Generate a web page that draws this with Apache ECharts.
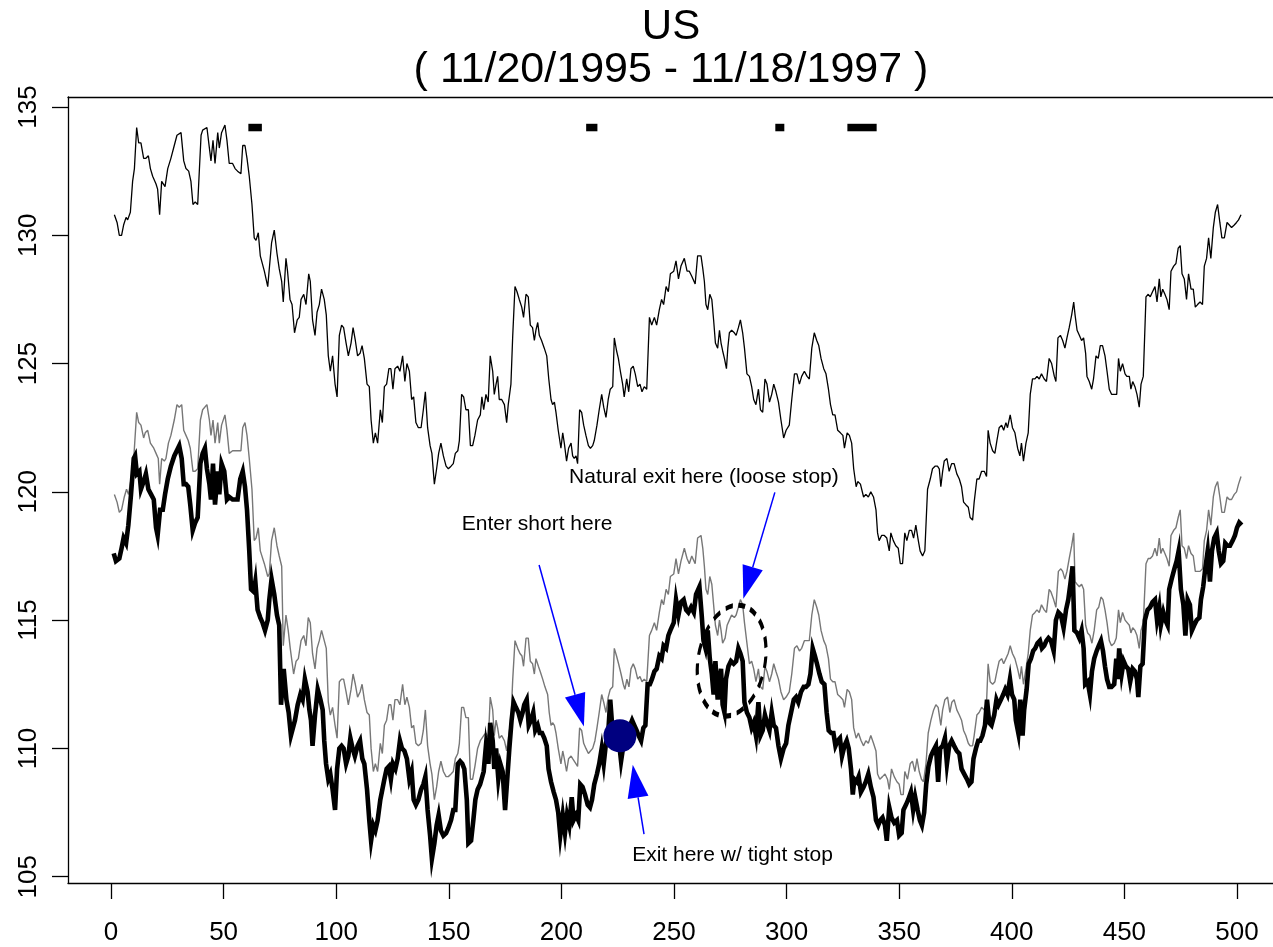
<!DOCTYPE html>
<html>
<head>
<meta charset="utf-8">
<script src="https://cdn.jsdelivr.net/npm/echarts@6/dist/echarts.min.js"></script>
<style>
  html, body { margin: 0; padding: 0; background: #fff; }
  #chart { width: 1273px; height: 947px; }
</style>
</head>
<body>
<div id="chart"></div>
<script>
// Upper thin series: [day, price]
const upperLine = [
  [1.5,130.8],[2.7,130.5],[3.7,130.0],[4.7,130.0],[5.6,130.4],[6.7,130.7],[7.4,130.6],[8.6,130.9],[9.6,132.1],[10.4,132.6],
  [11.4,134.2],[12.3,133.6],[13.3,133.6],[14.5,133.0],[15.5,133.0],[16.6,133.1],[17.5,132.6],[18.5,132.3],[20,132.0],[20.7,131.8],
  [21.6,130.8],[22.5,132.1],[24,131.9],[25.2,132.6],[26.6,133.0],[28.1,133.5],[29.3,133.9],[30.1,133.9],[31.1,134.0],[32.3,132.9],
  [33.3,132.6],[34.5,132.5],[35.5,132.1],[36.4,131.2],[37.4,131.3],[38.5,131.2],[40,133.9],[40.7,134.1],[42.6,134.2],[43.7,133.4],
  [44.4,132.9],[45.3,133.7],[46.2,132.8],[47.4,134.0],[48.1,133.4],[49.1,134.0],[50.6,134.3],[51.5,133.7],[52.5,132.8],[54,132.8],
  [55.1,132.6],[56.2,132.5],[57.7,132.4],[58.5,133.5],[59.5,133.5],[60.4,133.0],[61.4,132.3],[62.6,131.2],[63.6,129.9],[64.4,129.8],
  [65.4,130.1],[66.3,129.2],[68.1,128.6],[69.6,128.0],[70.3,128.0],[71.3,129.7],[72.5,130.2],[73.7,129.3],[74.7,128.7],[75.8,128.2],
  [76.5,127.4],[77.7,129.1],[78.4,128.6],[79.5,127.5],[80.4,127.3],[81.5,126.2],[82.7,126.7],[83.6,126.8],[84.4,127.5],[85.6,127.7],
  [86.6,127.3],[87.8,128.5],[88.5,128.2],[89.5,126.7],[90.6,126.1],[91.5,127.0],[92.5,127.3],[93.5,127.9],[94.7,127.5],[95.6,126.9],
  [96.5,125.3],[97.4,124.7],[98.4,125.3],[99.5,124.2],[100.4,123.7],[101.4,126.1],[102.4,126.5],[103.3,126.4],[104.4,125.8],[105.4,125.3],
  [106.6,125.8],[107.5,126.4],[108.5,125.9],[109.5,125.3],[110.6,125.4],[111.5,125.7],[112.5,125.2],[113.7,124.2],[114.7,124.1],[115.5,122.8],
  [116.5,121.9],[117.4,122.3],[118.4,121.9],[119.6,123.2],[120.5,122.7],[121.4,124.1],[122.4,124.2],[123.4,124.8],[124.3,124.8],[125.2,124.0],
  [126.1,124.8],[127.3,124.9],[128.3,124.7],[129.5,125.3],[130.5,124.3],[131.4,125.0],[132.5,124.7],[133.5,123.6],[134.4,123.7],[135.4,122.7],
  [136.5,122.5],[137.7,122.5],[138.7,123.2],[139.6,123.9],[140.6,122.5],[141.7,121.8],[142.5,121.5],[143.6,120.3],[144.6,120.9],[145.5,121.5],
  [146.5,121.9],[147.6,121.4],[148.8,121.0],[149.8,120.9],[151.0,121.0],[152.0,121.1],[152.9,121.5],[154.0,121.6],[154.7,122.0],[155.7,123.8],
  [156.6,123.7],[157.6,123.2],[158.7,123.2],[159.6,121.8],[160.6,121.8],[161.6,122.2],[162.8,122.8],[164.0,123.0],[164.7,123.7],[165.5,123.2],
  [166.5,123.8],[167.5,123.5],[168.4,125.3],[169.5,124.7],[170.2,123.8],[171,124.2],[171.7,124.5],[172.4,123.6],[173.5,123.6],[174.7,123.4],
  [175.7,122.7],[176.4,123.4],[177.6,124.2],[178.4,126.1],[179.4,128.0],[180.3,127.8],[181.3,127.5],[182.4,127.2],[183.2,126.8],[184.3,127.7],
  [185.3,127.6],[186.2,126.5],[187.2,126.4],[188,125.9],[188.7,126.3],[189.5,126.6],[190.2,126.1],[191.2,125.9],[192.4,125.6],[193.5,125.3],
  [194.4,124.4],[195.4,123.6],[196.1,123.4],[196.9,123.5],[197.6,123.1],[198.6,122.4],[199.8,121.7],[200.6,122.3],[201.3,121.9],[202.3,121.2],
  [203.2,121.7],[204.3,121.9],[205,121.4],[205.7,121.3],[206.5,121.4],[207.2,121.1],[208.1,123.2],[209,123.1],[209.9,122.6],[210.9,122.2],
  [212,121.8],[212.9,121.7],[213.9,121.8],[214.6,122.0],[215.8,122.6],[216.8,123.2],[217.9,123.8],[218.8,123.3],[219.8,122.9],[220.8,123.6],
  [221.7,124.0],[222.8,124.1],[223.5,126.0],[224.5,125.5],[225.3,125.2],[226.2,124.7],[227.2,124.2],[227.9,123.7],[229,124.4],[229.9,123.9],
  [230.9,124.8],[231.9,124.9],[232.8,124.6],[233.9,124.1],[234.9,124.2],[235.8,123.9],[236.8,124.1],[237.9,124.0],[239.1,126.8],[240.1,126.5],
  [241.3,126.8],[242.3,126.5],[243.5,127.1],[244.5,127.5],[245.4,127.3],[246.5,128.0],[247.5,127.8],[248.4,128.5],[249.9,128.6],[250.9,129.0],
  [252,128.3],[253.1,128.8],[254.6,129.1],[255.8,128.6],[256.8,128.6],[257.9,128.4],[259.4,128.1],[260.5,129.2],[262,129.2],[262.8,128.7],
  [263.5,128.2],[264.2,127.3],[265,127.1],[265.9,127.7],[266.8,127.5],[267.6,126.7],[268.4,125.8],[269.4,125.6],[270.2,126.3],[270.9,125.8],
  [271.6,125.5],[272.4,125.2],[273.3,124.8],[273.9,125.6],[274.6,126.2],[275.6,126.3],[276.8,126.2],[277.6,126.1],[278.6,126.4],[279.5,126.7],
  [280.5,126.2],[281.3,125.6],[282.4,124.6],[283.5,124.5],[284.5,124.1],[285.4,123.6],[286.4,123.4],[287.5,124.0],[288.4,123.2],[289.4,123.1],
  [290.4,124.4],[291.3,124.2],[292.4,123.5],[293.4,123.8],[294.3,124.2],[295.3,123.9],[296.4,123.5],[297.5,122.8],[298.7,122.1],[299.8,122.4],
  [301.2,122.6],[302.3,123.6],[303.5,124.6],[304.6,124.6],[305.7,124.2],[306.7,124.5],[307.9,124.7],[309.1,124.5],[310.1,124.4],[311.2,125.6],
  [312.3,126.2],[313.4,125.9],[314.3,125.7],[315.3,125.2],[316.5,124.8],[317.5,124.6],[318.6,124.0],[319.5,123.4],[320.5,123.0],[321.5,123.0],
  [322.7,122.4],[323.9,122.3],[325,122.2],[325.7,121.7],[326.9,122.3],[327.9,122.2],[328.9,121.9],[329.8,120.9],[330.9,120.2],[331.6,120.4],
  [332.8,120.3],[334.2,119.8],[335.2,119.9],[336.3,119.8],[337.4,120.0],[338.6,119.8],[339.7,119.3],[340.4,118.4],[341.1,118.1],[342.2,118.3],
  [343.4,118.3],[344.5,118.2],[345.6,117.7],[346.3,118.4],[347.4,118.1],[348.5,117.9],[349.6,117.8],[350.5,117.2],[351.5,117.2],[352.5,118.4],
  [353.4,118.1],[354.5,118.5],[355.5,118.5],[356.4,118.2],[357.4,118.7],[358.5,118.1],[359.3,117.7],[360.4,117.5],[361.4,117.7],[362.6,120.1],
  [363.8,120.5],[364.8,120.9],[365.9,121.0],[367,121.0],[367.8,120.9],[368.5,120.2],[369.3,120.8],[370,121.2],[371.2,121.3],[372.2,120.8],
  [373.3,121.1],[374.4,121.1],[375.6,120.7],[376.7,120.5],[377.7,120.2],[378.6,119.6],[379.6,119.5],[380.7,119.4],[381.5,119.0],[382.6,118.9],
  [383.3,119.6],[384.5,120.5],[385.5,120.5],[386.6,120.8],[387.8,120.8],[388.8,120.6],[389.5,122.4],[390.4,121.9],[391.5,121.6],[392.5,121.5],
  [393.4,122.0],[394.4,122.5],[395.5,122.6],[396.4,122.4],[397.4,122.7],[398.1,122.5],[399.3,123.0],[400.3,122.5],[401.4,122.3],[402.6,121.7],
  [403.6,121.4],[404.3,121.9],[405.2,121.2],[406.3,121.9],[407.3,122.3],[408.2,123.8],[409.2,124.4],[410.3,124.4],[411.2,124.5],[412.2,124.4],
  [413.2,124.6],[414.4,124.4],[415.4,124.3],[416.6,125.2],[417.7,125.0],[418.9,124.5],[419.6,124.3],[420.5,126.0],[421.6,126.1],[422.6,125.9],
  [423.6,125.6],[424.5,126.0],[425.5,126.4],[426.6,126.9],[427.5,127.4],[428.1,126.9],[429,126.3],[430,126.1],[431,125.9],[431.9,126.0],
  [432.8,125.4],[433.4,124.5],[434.4,124.3],[435.5,124.0],[436.3,124.4],[437.4,125.3],[438.4,125.2],[439.3,125.7],[440.3,125.7],[441.4,125.3],
  [442.3,124.7],[443.3,124.0],[444.3,123.8],[445.5,123.8],[446.6,123.8],[447.4,125.2],[448.2,124.7],[449.2,125.0],[450.3,124.6],[451.1,124.5],
  [452.2,124.5],[452.9,124.0],[453.7,124.3],[454.7,124.1],[455.6,123.8],[456.6,123.3],[457.4,124.2],[458.4,124.5],[459.6,127.6],[460.6,127.7],
  [461.5,127.6],[462.5,127.8],[463.6,128.0],[464.5,127.4],[465.5,128.3],[466.2,127.6],[467,127.9],[468,127.7],[468.9,127.5],[469.9,127.1],
  [470.7,128.6],[471.9,128.8],[472.9,128.9],[473.9,129.5],[474.8,129.6],[475.6,128.5],[476.6,128.3],[477.6,127.5],[478.5,128.5],[479.6,127.9],
  [480.6,127.9],[481.5,127.2],[482.5,127.3],[483.6,127.4],[484.7,127.3],[485.5,128.8],[486.5,129.1],[487.4,129.9],[488.4,129.1],[489.5,130.3],
  [490.4,130.9],[491.4,131.2],[492.4,130.5],[493.3,129.9],[494.4,129.9],[495.6,130.5],[496.6,130.4],[497.6,130.3],[498.8,130.4],[499.8,130.5],
  [500.7,130.6],[501.8,130.8]
];

// Grey stop line: [day, level]
const stopLine = [
  [1.5,119.9],[2.7,119.6],[3.7,119.2],[4.7,119.3],[5.9,119.8],[6.9,120.1],[7.8,119.9],[8.9,120.5],[10.1,121.3],[11.4,123.1],
  [12.3,122.7],[13.3,122.6],[14.5,122.1],[15.2,122.3],[16.3,122.4],[17.5,121.9],[19,121.7],[20,121.5],[21,121.3],[21.6,120.3],
  [22.5,121.3],[23.7,121.2],[24.4,121.3],[25.5,121.9],[26.6,122.2],[28.1,122.8],[29.3,123.4],[30.3,123.3],[31.4,123.4],[32.3,122.4],
  [33.3,122.2],[34.3,122.0],[35.2,121.7],[36.4,120.8],[37.4,120.8],[38.5,120.9],[39.7,122.8],[40.7,123.2],[42.6,123.4],[43.7,122.8],
  [44.4,122.2],[45.3,122.8],[46.2,121.9],[47.4,122.7],[48.1,121.9],[49.1,122.6],[50.6,123.0],[51.5,122.4],[52.5,121.5],[54,121.6],
  [55.1,121.6],[56.2,121.6],[57.7,121.6],[58.5,122.5],[59.5,122.7],[60.4,122.2],[61.4,121.3],[62.6,120.1],[63.6,118.1],[64.4,118.2],
  [65.4,118.6],[66.3,117.7],[68.1,117.2],[69.6,116.7],[70.3,116.8],[71.3,118.1],[72.5,118.6],[73.7,117.9],[74.7,117.5],[75.8,117.1],
  [76.5,114.0],[77.7,115.2],[78.7,114.6],[79.6,113.9],[81.1,112.9],[82.2,113.4],[83.2,113.5],[84.4,114.2],[85.6,114.4],[86.6,114.0],
  [87.6,115.1],[88.5,114.9],[89.5,113.7],[90.6,113.1],[91.5,113.9],[92.5,114.2],[93.5,114.6],[94.7,114.2],[95.6,113.9],[96.5,111.8],
  [97.4,111.3],[98.4,111.6],[99.5,110.9],[100.4,110.4],[101.4,112.6],[102.4,112.7],[103.3,112.7],[104.4,112.2],[105.4,111.7],[106.6,112.3],
  [107.5,112.9],[108.5,112.5],[109.5,112.0],[110.6,112.2],[111.5,112.5],[112.5,111.9],[113.7,111.4],[114.7,111.3],[115.5,110.0],[116.5,109.1],
  [117.4,109.4],[118.4,109.1],[119.6,110.2],[120.5,109.8],[121.4,110.9],[122.4,111.1],[123.4,111.7],[124.3,111.7],[125.2,111.1],[126.1,111.9],
  [127.3,111.9],[128.3,111.7],[129.5,112.5],[130.5,111.7],[131.4,112.0],[132.5,111.6],[133.5,110.8],[134.4,110.9],[135.4,110.2],[136.5,110.1],
  [137.7,110.2],[138.7,110.7],[139.6,111.5],[140.6,110.1],[141.7,109.4],[142.5,109.0],[143.6,108.0],[144.6,108.5],[145.5,109.1],[146.5,109.5],
  [147.6,109.1],[148.8,108.9],[149.8,108.9],[151.0,109.0],[152.0,109.1],[152.9,109.6],[154.0,109.8],[154.7,110.2],[155.7,111.6],[156.6,111.6],
  [157.6,111.2],[158.7,111.2],[159.6,108.8],[160.6,108.8],[161.6,109.3],[162.8,110.0],[164.0,110.3],[165.5,110.5],[166.5,110.6],[167.6,110.4],
  [168.4,112.0],[169.5,111.5],[170.2,110.5],[171,111.1],[171.7,110.8],[172.4,110.4],[173.5,110.5],[174.7,110.3],[175.7,109.9],[176.6,110.5],
  [177.6,111.1],[178.4,112.7],[179.4,114.2],[180.6,113.9],[181.6,113.7],[182.5,113.6],[183.2,113.2],[184.3,114.3],[185.3,114.3],[186.2,113.4],
  [187.2,113.3],[188,112.9],[188.7,113.5],[189.8,113.2],[190.6,113.0],[191.7,112.7],[192.7,112.4],[193.9,112.1],[194.6,111.4],[195.4,110.9],
  [196.1,111.0],[196.9,110.9],[197.6,110.6],[198.6,110.0],[199.8,109.4],[200.6,109.9],[201.3,109.6],[202.3,109.1],[203.2,109.6],[204.3,109.7],
  [205,109.6],[205.7,109.6],[206.5,109.4],[207.2,109.3],[208.1,110.8],[209,110.7],[209.9,110.2],[210.9,110.0],[212,109.8],[212.9,109.9],
  [213.9,110.0],[214.9,110.3],[215.8,110.8],[216.8,111.4],[217.9,112.1],[218.8,111.8],[219.8,111.4],[220.8,112.0],[221.7,112.3],[222.8,112.4],
  [223.5,113.9],[224.5,113.6],[225.4,113.3],[226.5,112.9],[227.5,112.5],[228.2,112.3],[229.1,112.7],[230,112.4],[230.9,113.1],[231.9,113.3],
  [232.8,113.1],[233.9,112.7],[234.9,112.8],[235.8,112.6],[236.8,112.7],[237.9,112.6],[239.1,114.4],[240.1,114.6],[241.3,114.9],[242.3,114.6],
  [243.5,115.3],[244.5,115.8],[245.4,115.6],[246.5,116.2],[247.5,116.0],[248.4,116.7],[249.9,116.8],[250.9,117.4],[252,116.8],[253.1,117.3],
  [254.6,117.8],[255.8,117.4],[256.8,117.2],[257.9,117.5],[259.4,117.2],[260.5,118.2],[262,118.3],[262.8,117.8],[263.5,117.1],[264.2,116.2],
  [265,116.0],[265.9,116.7],[266.8,116.4],[267.6,115.6],[268.4,114.8],[269.4,114.4],[270.2,115.0],[270.9,114.6],[271.6,114.1],[272.7,114.3],
  [273.6,114.8],[274.6,115.0],[275.6,115.2],[276.8,115.1],[277.6,115.2],[278.6,115.5],[279.5,115.8],[280.5,115.6],[281.3,114.9],[282.4,114.1],
  [283.5,113.3],[284.5,113.4],[285.4,113.1],[286.4,112.6],[287.5,113.1],[288.4,112.4],[289.4,112.3],[290.4,113.2],[291.3,113.0],[292.4,112.6],
  [293.4,112.9],[294.3,113.3],[295.3,113.0],[296.4,112.7],[297.5,112.2],[298.7,111.9],[299.8,112.0],[301.2,112.2],[302.3,112.9],[303.5,113.9],
  [304.6,114.0],[305.7,113.8],[306.7,113.9],[307.9,114.2],[309.1,114.2],[310.1,114.2],[311.2,115.2],[312.3,115.8],[313.4,115.5],[314.3,115.2],
  [315.3,114.6],[316.5,114.2],[317.5,114.0],[318.6,113.5],[319.5,112.7],[320.5,112.6],[321.5,112.6],[322.7,112.1],[323.9,112.0],[325,111.9],
  [325.7,111.6],[326.9,112.3],[327.9,112.2],[328.9,111.9],[329.8,110.8],[330.9,110.4],[331.9,110.6],[333.1,110.3],[334.2,110.1],[335.2,110.3],
  [336.3,110.2],[337.4,110.5],[338.6,110.2],[339.7,109.9],[340.4,109.0],[341.4,108.8],[342.6,108.9],[343.7,109.0],[344.8,108.8],[345.6,108.4],
  [346.6,109.2],[347.8,108.9],[349,108.7],[350,108.6],[350.8,108.2],[351.8,108.2],[352.5,109.1],[353.7,108.8],[354.9,109.4],[355.9,109.5],
  [357,109.1],[357.9,109.6],[358.9,109.1],[359.9,108.8],[360.8,108.7],[361.9,109.4],[362.9,110.6],[364.1,111.1],[365.3,111.5],[366.3,111.7],
  [367.3,111.6],[368.5,110.9],[369.3,111.5],[370.3,111.9],[371.5,112.0],[372.5,111.4],[373.4,111.8],[374.4,111.9],[375.6,111.5],[376.7,111.3],
  [377.7,111.1],[378.6,110.7],[379.6,110.5],[380.7,110.2],[381.5,110.1],[382.6,110.1],[383.3,110.5],[384.5,111.3],[385.5,111.4],[386.6,111.6],
  [387.8,111.5],[388.8,111.8],[389.5,113.3],[390.4,112.6],[391.5,112.5],[392.5,112.6],[393.4,113.0],[394.4,113.4],[395.5,113.5],[396.4,113.3],
  [397.4,113.5],[398.4,113.7],[399.3,114.0],[400.3,113.7],[401.4,113.5],[402.6,113.1],[403.6,112.7],[404.3,113.2],[405.2,112.5],[406.3,113.1],
  [407.3,113.7],[408.2,114.6],[409.2,115.2],[410.3,115.3],[411.2,115.4],[412.2,115.3],[413.2,115.6],[414.4,115.4],[415.4,115.3],[416.6,116.2],
  [417.4,116.1],[418.6,115.8],[419.6,115.5],[420.7,116.9],[421.8,117.0],[422.6,116.9],[423.6,116.6],[424.5,116.9],[425.5,117.4],[426.6,117.9],
  [427.5,118.4],[428.1,116.5],[429,116.4],[430,116.3],[431,116.4],[431.9,116.2],[432.8,114.8],[433.7,114.5],[434.7,114.4],[435.6,114.1],
  [436.6,114.6],[437.7,115.4],[438.6,115.5],[439.6,115.9],[440.5,115.8],[441.4,115.4],[442.3,114.9],[443.3,114.2],[444.3,114.0],[445.5,114.1],
  [446.4,114.3],[447.4,115.4],[448.2,114.9],[449.2,115.3],[450.3,115.0],[451.1,115.0],[452.2,114.8],[452.9,114.5],[453.7,114.7],[454.7,114.6],
  [455.6,114.4],[456.6,113.9],[457.4,114.6],[458.4,114.9],[459.6,117.2],[460.6,117.4],[461.5,117.4],[462.5,117.5],[463.6,117.8],[464.5,117.5],
  [465.5,118.2],[466.2,117.6],[467,117.8],[468,117.6],[468.9,117.4],[469.9,117.1],[470.7,118.3],[471.9,118.5],[472.9,118.6],[473.9,119.0],
  [474.8,119.3],[475.6,117.9],[476.6,117.8],[477.6,117.4],[478.5,117.9],[479.6,117.6],[480.6,117.5],[481.5,116.9],[482.5,116.9],[483.6,116.9],
  [484.7,117.0],[485.5,118.1],[486.5,118.5],[487.4,119.3],[488.4,118.7],[489.5,119.8],[490.4,120.2],[491.4,120.4],[492.4,119.8],[493.3,119.2],
  [494.4,119.2],[495.6,119.8],[496.6,119.7],[497.6,119.7],[498.8,119.9],[499.8,120.0],[500.7,120.3],[501.8,120.6]
];

// Thick price series: [day, price]
const priceLine = [
  [1.2,117.6],[2.2,117.3],[3.7,117.4],[4.7,117.8],[5.6,118.2],[6.7,118.0],[7.7,118.7],[8.9,119.9],[10.1,121.3],[10.7,121.4],
  [11.5,120.7],[12.6,120.8],[13.3,120.1],[14.5,120.4],[15.5,120.7],[16.6,120.1],[17.8,119.9],[19,119.7],[20,118.6],[20.7,118.3],
  [21.8,119.3],[23,119.3],[24,119.9],[25.2,120.5],[26.6,121.0],[28.1,121.4],[29.2,121.6],[30.3,121.8],[31.4,121.3],[32.3,120.3],
  [33.3,120.3],[34.3,120.2],[35.2,119.5],[36.3,118.5],[37.4,118.8],[38.5,119.0],[39.7,121.1],[40.7,121.5],[41.7,121.7],[42.6,120.9],
  [43.7,120.3],[44.4,119.7],[45.3,121.1],[46.2,119.5],[47.4,120.8],[48.1,119.9],[49.1,121.1],[50.3,120.8],[51.5,119.7],[52.5,119.8],
  [54,119.7],[55.1,119.7],[56.2,119.7],[57.4,120.5],[58.5,120.8],[59.5,120.2],[60.4,119.3],[61.4,117.7],[62.2,116.2],[63.4,116.1],
  [64.1,116.5],[65.1,115.4],[66.3,115.1],[67.3,114.9],[68.4,114.6],[69.6,115.0],[70.3,115.8],[71.3,116.6],[72.5,116.0],[73.7,115.2],
  [74.7,114.8],[75.5,111.7],[76.7,113.1],[77.9,111.9],[78.9,111.4],[79.9,110.5],[81.7,111.1],[82.9,111.7],[84.1,112.1],[85.1,111.9],
  [86.1,112.7],[87.3,112.2],[88.1,111.5],[88.8,111.1],[89.5,110.1],[90.6,111.3],[91.8,112.3],[93,111.9],[94,111.5],[94.7,110.3],
  [95.5,109.4],[96.5,108.8],[97.4,109.0],[98.4,108.4],[99.5,107.6],[100.4,109.2],[101.4,110.0],[102.4,110.1],[103.3,110.0],[104.4,109.4],
  [105.4,109.7],[106.3,110.4],[107.3,110.0],[108.3,109.7],[109.5,110.1],[110.6,110.3],[111.6,109.6],[112.5,109.4],[113.7,108.4],[114.7,107.2],
  [115.5,106.4],[116.5,107.0],[117.4,106.8],[118.4,107.2],[119.6,108.0],[120.5,108.4],[121.4,108.8],[122.4,109.2],[123.4,109.3],[124.3,108.8],
  [125.2,109.4],[126.3,109.2],[127.3,109.6],[128.3,110.3],[129.2,110.0],[130.3,109.9],[131.4,109.6],[132.5,108.8],[133.5,109.1],[134.4,108.0],
  [135.4,107.8],[136.5,108.0],[137.7,108.4],[138.7,108.6],[139.6,108.9],[140.6,107.6],[141.7,106.6],[142.5,105.7],[143.6,106.3],[144.6,107.0],
  [145.5,107.4],[146.5,106.8],[147.6,106.6],[148.8,106.7],[149.8,106.9],[151.0,107.2],[152.0,107.6],[152.9,107.6],[154.0,109.4],[155,109.5],
  [156,109.4],[156.9,109.2],[158,108.0],[158.7,106.3],[159.9,106.4],[160.9,107.2],[161.8,108.0],[162.8,108.4],[163.9,108.6],[165.5,109.1],
  [166.5,110.1],[167.6,109.4],[168.4,111.0],[169.5,110.3],[170.2,109.2],[171,110.0],[172,108.8],[172.9,109.4],[173.9,109.1],[175,107.6],
  [175.8,108.6],[176.9,110.0],[177.9,111.1],[178.8,111.8],[179.8,111.6],[180.9,111.4],[181.8,111.1],[182.8,111.4],[183.5,111.7],[184.6,111.9],
  [185.5,110.9],[186.5,111.1],[187.5,111.4],[188.4,110.7],[189.5,110.9],[190.4,110.6],[191.4,110.6],[192.4,110.4],[193.5,110.1],[194.3,109.2],
  [195.4,108.7],[196.6,108.3],[197.6,108.0],[198.6,107.5],[199.5,106.6],[200.6,107.4],[201.6,106.7],[202.5,107.4],[203.5,107.0],[204.6,108.1],
  [205.4,107.2],[206.5,107.4],[207.5,107.2],[208.4,108.6],[209.4,108.5],[210.5,108.2],[211.7,107.8],[212.7,107.7],[213.6,108.0],[214.6,108.6],
  [215.8,109.0],[216.8,109.4],[217.9,110.0],[218.8,109.4],[219.8,110.2],[220.8,110.6],[221.7,111.9],[222.8,110.6],[223.5,110.2],[224.5,110.3],
  [225.4,110.4],[226.5,109.5],[227.5,110.1],[228.4,110.5],[229.4,110.7],[230.5,110.9],[231.4,111.1],[232.4,110.9],[233.4,110.7],[234.3,110.5],
  [235.4,110.3],[236.4,110.8],[237.3,110.9],[238.3,112.5],[239.3,112.5],[240.2,112.7],[241.3,113.0],[242.3,113.1],[243.5,113.6],[244.5,113.5],
  [245.4,114.0],[246.5,113.9],[247.5,114.4],[248.4,114.6],[249.9,114.9],[250.9,115.8],[252,115.2],[253.1,115.7],[254.3,115.8],[255.4,115.4],
  [256.4,115.3],[257.6,115.5],[258.8,115.3],[259.8,116.0],[261.3,116.3],[262.3,115.2],[263.1,114.2],[264,113.9],[265,114.6],[265.9,113.5],
  [266.8,112.9],[267.6,112.1],[268.4,113.4],[269.4,111.9],[270.2,112.7],[270.9,113.1],[271.6,111.7],[272.4,111.4],[273.1,112.7],[274.2,113.2],
  [275.3,113.4],[276.5,113.3],[277.6,113.4],[278.6,113.9],[279.5,113.7],[280.5,113.4],[281.3,111.8],[282.4,111.4],[283.5,111.2],[284.5,110.8],
  [285.4,111.0],[286.4,110.5],[287.5,111.8],[288.4,110.5],[289.4,110.7],[290.4,111.3],[291.3,111.0],[292.4,110.7],[293.4,111.4],[294.3,110.9],
  [295.3,110.8],[296.4,110.1],[297.5,109.6],[298.7,110.0],[299.8,110.2],[300.8,110.9],[302,111.4],[303.2,111.9],[304.2,112.0],[305.2,111.8],
  [306.4,112.2],[307.6,112.4],[308.6,112.4],[309.7,112.5],[310.6,112.9],[311.6,113.9],[312.6,113.6],[313.5,113.3],[314.6,112.9],[315.6,112.6],
  [316.8,112.5],[317.8,111.4],[318.7,110.7],[319.8,110.6],[320.8,110.6],[321.7,110.1],[322.7,110.3],[323.7,110.4],[324.6,109.7],[325.7,110.1],
  [326.7,110.3],[327.6,110.0],[328.6,109.2],[329.4,108.2],[330.1,108.8],[331.1,108.7],[332,108.9],[333,108.3],[334.2,108.5],[335.2,108.7],
  [336.3,109.0],[337.4,108.5],[338.6,108.1],[339.7,107.2],[340.7,107.0],[341.6,107.2],[342.6,107.3],[343.7,107.0],[344.5,106.4],[345.6,107.7],
  [346.6,107.3],[347.8,107.1],[349,107.2],[350,106.6],[351.1,106.7],[351.9,107.6],[353,107.8],[354,108.0],[355.2,108.3],[356.2,107.6],
  [357.1,108.1],[358.2,107.6],[359.2,107.2],[360.1,107.0],[361.1,107.5],[362,108.6],[363,109.3],[364.1,109.7],[365.1,109.9],[366.3,110.1],
  [367.3,108.7],[368.2,110.0],[369.3,110.1],[370.3,110.4],[371.2,109.4],[372.2,110.1],[373.3,110.3],[374.4,110.1],[375.6,109.9],[376.7,109.8],
  [377.7,109.2],[378.9,109.0],[380.1,108.8],[381.1,108.6],[382.1,108.7],[383,109.6],[384.1,110.0],[385.1,110.3],[386,110.3],[387,110.5],
  [388.1,110.9],[389,111.9],[390,111.0],[391,110.9],[392.2,111.3],[393.2,111.9],[394.1,111.7],[395.2,111.9],[396.2,112.1],[397.1,112.3],
  [398.1,112.1],[399.2,112.7],[400.1,112.1],[401.1,111.9],[401.8,111.1],[402.9,110.6],[403.8,111.9],[404.8,110.5],[405.5,111.5],[406.6,112.3],
  [407.5,113.3],[408.5,113.5],[409.5,113.8],[410.4,113.9],[411.4,114.1],[412.5,114.2],[413.4,113.9],[414.4,114.0],[415.4,114.2],[416.3,114.3],
  [417.4,114.2],[418.6,113.8],[419.6,115.0],[420.7,115.3],[421.8,115.2],[423,114.7],[424.1,115.4],[425.1,115.8],[426,116.4],[427,117.1],
  [427.8,114.6],[429,114.5],[430,114.3],[431,114.6],[431.9,113.9],[432.6,112.5],[433.7,112.6],[434.7,112.1],[435.6,113.0],[436.6,113.5],
  [437.7,113.8],[438.6,114.0],[439.6,114.2],[440.5,113.8],[441.4,113.2],[442.3,112.7],[443.3,112.4],[444.3,112.4],[445.5,112.5],[446.4,113.5],
  [447,112.7],[447.7,113.9],[448.8,112.9],[449.7,113.4],[450.7,113.2],[451.7,113.1],[452.6,112.6],[453.7,113.1],[454.7,113.0],[455.6,112.7],
  [456.2,112.0],[457.1,113.2],[458.1,113.3],[459.1,115.0],[460.3,115.4],[461.4,115.5],[462.5,115.7],[463.6,115.8],[464.5,115.0],[465.5,115.5],
  [466.2,114.8],[467.3,115.3],[468.2,115.0],[469.2,114.8],[469.9,116.2],[471,116.6],[472.2,117.0],[473.2,117.3],[474.1,117.7],[475.1,116.2],
  [476.2,115.6],[477.1,114.4],[478.1,115.8],[479.1,115.6],[480,114.6],[481,114.8],[482.1,115.0],[483.3,115.1],[484,115.8],[485,116.3],
  [485.9,117.0],[487,117.7],[488,116.5],[488.9,117.7],[489.9,118.2],[491,118.4],[491.9,117.7],[492.9,117.2],[493.9,117.3],[494.8,118.0],
  [495.8,117.9],[496.9,117.9],[498.1,118.1],[499.1,118.3],[500,118.6],[501,118.8],[502.1,118.7]
];

// Flag periods along the top: start day, end day, level
const flagStart = [61, 211, 295, 327];
const flagEnd   = [67, 216, 299, 340];
const flagLevel = 134.2;

// Axis ticks
const xTicks = [0, 50, 100, 150, 200, 250, 300, 350, 400, 450, 500];
const yTicks = [105, 110, 115, 120, 125, 130, 135];

// Annotations (data coordinates)
const noteText = ['Natural exit here (loose stop)', 'Enter short here', 'Exit here w/ tight stop'];
const noteDay  = [263.3, 189.2, 276.0];
const noteVal  = [120.56, 118.75, 105.83];
// arrows: [fromDay, fromVal, toDay, toVal]
const arrows = [
  [190.1, 117.15, 210.0, 110.85],
  [294.8, 119.98, 280.8, 115.83],
  [236.7, 106.66, 231.7, 109.36]
];
const entryPoint = [226.0, 110.49];
const exitZone = [275.6, 113.42];

const chart = echarts.init(document.getElementById('chart'), null, { renderer: 'canvas' });

const FONT = 'Liberation Sans, Arial, Helvetica, sans-serif';

function renderArrow(params, api) {
  const a = api.coord([api.value(0), api.value(1)]);
  const b = api.coord([api.value(2), api.value(3)]);
  const dx = b[0] - a[0], dy = b[1] - a[1];
  const len = Math.hypot(dx, dy);
  const ux = dx / len, uy = dy / len;
  const headLen = 33, headHalf = 10.5;
  const bx = b[0] - ux * headLen, by = b[1] - uy * headLen;
  return {
    type: 'group',
    children: [
      { type: 'line', shape: { x1: a[0], y1: a[1], x2: bx, y2: by },
        style: { stroke: '#0000ff', lineWidth: 1.5 } },
      { type: 'polygon',
        shape: { points: [[b[0], b[1]], [bx - uy * headHalf, by + ux * headHalf], [bx + uy * headHalf, by - ux * headHalf]] },
        style: { fill: '#0000ff' } }
    ]
  };
}

function renderFlag(params, api) {
  const p1 = api.coord([api.value(0), api.value(2)]);
  const p2 = api.coord([api.value(1), api.value(2)]);
  const h = 7.5;
  return { type: 'rect', shape: { x: p1[0], y: p1[1] - h / 2, width: p2[0] - p1[0], height: h },
           style: { fill: '#000' } };
}

const X_MIN = -19.09, X_MAX = 516.0;
const Y_MIN = 104.754, Y_MAX = 135.39;

const option = {
  animation: false,
  backgroundColor: '#fff',
  textStyle: { fontFamily: FONT },
  graphic: [
    { type: 'text', x: 671, y: 27,
      style: { text: 'US', font: '42px ' + FONT, fill: '#000', textAlign: 'center', textVerticalAlign: 'middle' } },
    { type: 'text', x: 671, y: 70,
      style: { text: '( 11/20/1995 - 11/18/1997 )', font: '43px ' + FONT, fill: '#000', textAlign: 'center', textVerticalAlign: 'middle' } }
  ],
  grid: { left: 68, top: 97, right: 0, bottom: 64, containLabel: false },
  xAxis: [
    {
      type: 'value', min: X_MIN, max: X_MAX, position: 'bottom',
      axisLine: { show: true, onZero: false, lineStyle: { color: '#000', width: 1.3 } },
      splitLine: { show: false },
      axisTick: { show: true, inside: false, length: 16, customValues: xTicks,
                  lineStyle: { color: '#000', width: 1.3 } },
      axisLabel: { show: true, customValues: xTicks, margin: 37, fontSize: 26, color: '#000', fontFamily: FONT }
    },
    {
      // top edge of the plot frame
      type: 'value', min: X_MIN, max: X_MAX, position: 'top',
      axisLine: { show: true, onZero: false, lineStyle: { color: '#000', width: 1.3 } },
      axisTick: { show: false }, axisLabel: { show: false }, splitLine: { show: false }
    }
  ],
  yAxis: {
    type: 'value', min: Y_MIN, max: Y_MAX, position: 'left',
    axisLine: { show: true, onZero: false, lineStyle: { color: '#000', width: 1.3 } },
    splitLine: { show: false },
    axisTick: { show: true, inside: false, length: 16, customValues: yTicks,
                lineStyle: { color: '#000', width: 1.3 } },
    axisLabel: { show: true, customValues: yTicks, rotate: 90, margin: 26, fontSize: 26, color: '#000', fontFamily: FONT }
  },
  series: [
    { name: 'upper', type: 'line', data: upperLine, showSymbol: false, symbol: 'none',
      lineStyle: { color: '#000', width: 1.3 }, z: 2 },
    { name: 'stop', type: 'line', data: stopLine, showSymbol: false, symbol: 'none',
      lineStyle: { color: '#777', width: 1.4 }, z: 3 },
    { name: 'price', type: 'line', data: priceLine, showSymbol: false, symbol: 'none',
      lineStyle: { color: '#000', width: 4.6, join: 'miter' }, z: 4 },
    { name: 'flags', type: 'custom', renderItem: renderFlag,
      data: flagStart.map((s, i) => [s, flagEnd[i], flagLevel]), z: 5 },
    { name: 'entry', type: 'scatter', data: [entryPoint], symbol: 'circle', symbolSize: 33,
      itemStyle: { color: '#000080', opacity: 1 }, z: 6 },
    { name: 'exitZone', type: 'scatter', data: [exitZone],
      symbol: 'path://M0,50 A50,50 0 1,1 100,50 A50,50 0 1,1 0,50 Z',
      symbolSize: [67, 112], symbolRotate: -10,
      itemStyle: { color: 'transparent', borderColor: '#000', borderWidth: 4, borderType: [9, 7], opacity: 1 }, z: 6 },
    { name: 'arrows', type: 'custom', renderItem: renderArrow, data: arrows, z: 7 },
    { name: 'notes', type: 'scatter', symbolSize: 0, z: 8,
      itemStyle: { opacity: 1 },
      data: noteText.map((t, i) => ({ name: t, value: [noteDay[i], noteVal[i]] })),
      label: { show: true, position: 'inside', formatter: '{b}', fontSize: 21, color: '#000', fontFamily: FONT, opacity: 1 } }
  ]
};

chart.setOption(option);
</script>
</body>
</html>
